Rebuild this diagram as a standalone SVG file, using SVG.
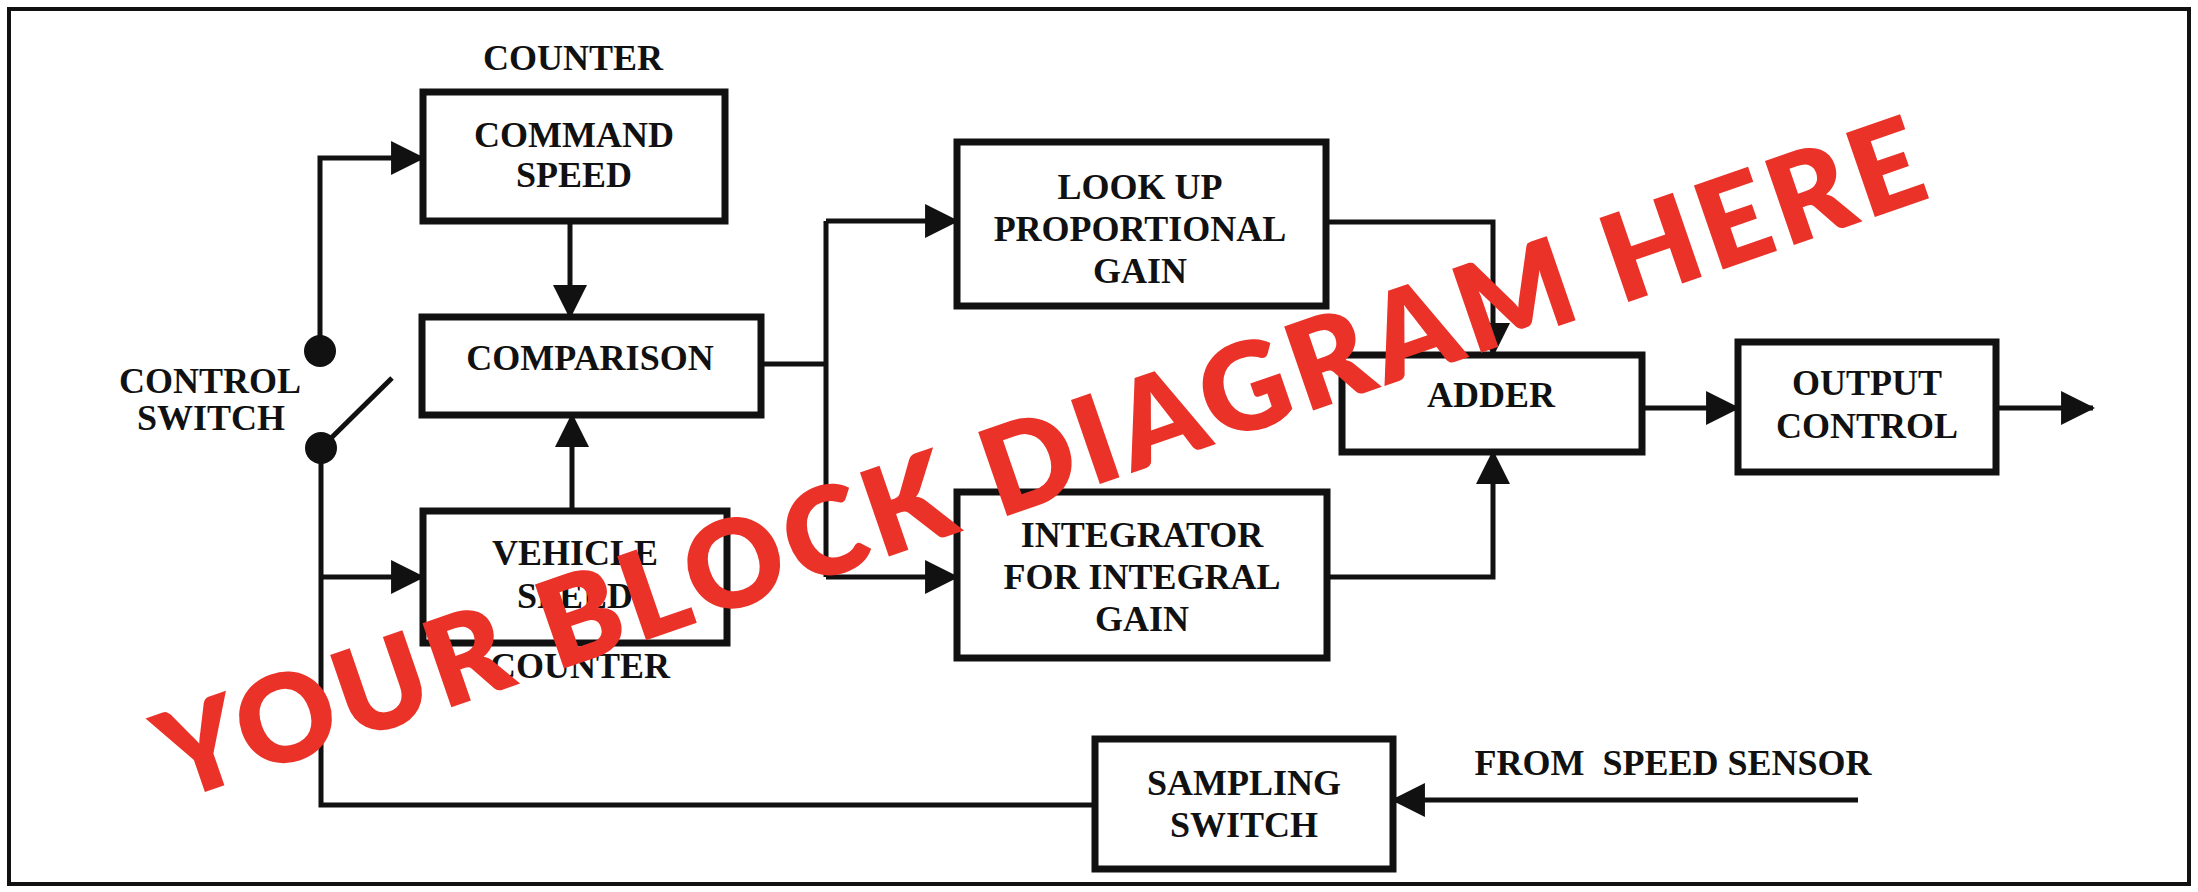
<svg xmlns="http://www.w3.org/2000/svg" width="2198" height="892" viewBox="0 0 2198 892">
<style>
.box{fill:#fff;stroke:#111;stroke-width:7}
.ln{fill:none;stroke:#111;stroke-width:5}
.t{font-family:"Liberation Serif","Times New Roman",serif;font-weight:bold;font-size:36px;fill:#111;text-anchor:middle}
.wm{font-family:Lato,"Liberation Sans",sans-serif;font-weight:800;font-size:122px;fill:#EA3228}
</style>
<defs>
<marker id="ah" viewBox="0 0 10 10" refX="9.4" refY="5" markerWidth="34" markerHeight="34" markerUnits="userSpaceOnUse" orient="auto">
<path d="M0,0 L10,5 L0,10 z" fill="#111"/>
</marker>
</defs>
<rect x="0" y="0" width="2198" height="892" fill="#fff"/>
<rect x="9" y="9" width="2180" height="875" fill="none" stroke="#111" stroke-width="4"/>

<g id="connectors">
<path class="ln" d="M320,350 V158 H423" marker-end="url(#ah)"/>
<path class="ln" d="M570,221 V317" marker-end="url(#ah)"/>
<path class="ln" d="M572,511 V415" marker-end="url(#ah)"/>
<path class="ln" d="M321,448 V805 H1095"/>
<path class="ln" d="M321,577 H423" marker-end="url(#ah)"/>
<path class="ln" d="M321,448 L392,378"/>
<path class="ln" d="M761,364 H826"/>
<path class="ln" d="M826,221 V577"/>
<path class="ln" d="M826,221 H957" marker-end="url(#ah)"/>
<path class="ln" d="M826,577 H957" marker-end="url(#ah)"/>
<path class="ln" d="M1326,222 H1493 V355" marker-end="url(#ah)"/>
<path class="ln" d="M1326,577 H1493 V452" marker-end="url(#ah)"/>
<path class="ln" d="M1642,408 H1738" marker-end="url(#ah)"/>
<path class="ln" d="M1996,408 H2093" marker-end="url(#ah)"/>
<path class="ln" d="M1858,800 H1393" marker-end="url(#ah)"/>
</g>

<g id="control-switch">
<circle cx="320" cy="351" r="16" fill="#111"/>
<circle cx="321" cy="448" r="16" fill="#111"/>
<text class="t" x="210" y="393">CONTROL</text>
<text class="t" x="211" y="430">SWITCH</text>
</g>

<g id="command-speed-counter">
<text class="t" x="573" y="70">COUNTER</text>
<rect class="box" x="423" y="92" width="302" height="129"/>
<text class="t" x="574" y="147">COMMAND</text>
<text class="t" x="574" y="187">SPEED</text>
</g>

<g id="comparison">
<rect class="box" x="422" y="317" width="339" height="98"/>
<text class="t" x="590" y="370">COMPARISON</text>
</g>

<g id="vehicle-speed-counter">
<rect class="box" x="423" y="511" width="304" height="132"/>
<text class="t" x="575" y="565">VEHICLE</text>
<text class="t" x="575" y="608">SPEED</text>
<text class="t" x="580" y="678">COUNTER</text>
</g>

<g id="proportional-gain">
<rect class="box" x="957" y="142" width="369" height="164"/>
<text class="t" x="1140" y="199">LOOK UP</text>
<text class="t" x="1140" y="241">PROPORTIONAL</text>
<text class="t" x="1140" y="283">GAIN</text>
</g>

<g id="integrator">
<rect class="box" x="957" y="492" width="370" height="166"/>
<text class="t" x="1142" y="547">INTEGRATOR</text>
<text class="t" x="1142" y="589">FOR INTEGRAL</text>
<text class="t" x="1142" y="631">GAIN</text>
</g>

<g id="adder">
<rect class="box" x="1342" y="355" width="300" height="97"/>
<text class="t" x="1491" y="407">ADDER</text>
</g>

<g id="output-control">
<rect class="box" x="1738" y="342" width="258" height="130"/>
<text class="t" x="1867" y="395">OUTPUT</text>
<text class="t" x="1867" y="438">CONTROL</text>
</g>

<g id="sampling-switch">
<rect class="box" x="1095" y="739" width="298" height="130"/>
<text class="t" x="1244" y="795">SAMPLING</text>
<text class="t" x="1244" y="837">SWITCH</text>
</g>

<g id="speed-sensor">
<text class="t" x="1673" y="775" xml:space="preserve">FROM  SPEED SENSOR</text>
</g>

<g id="watermark">
<text class="wm" transform="translate(176,802) rotate(-19)" x="0" y="0" textLength="1858" lengthAdjust="spacing">YOUR BLOCK DIAGRAM HERE</text>
</g>
</svg>
